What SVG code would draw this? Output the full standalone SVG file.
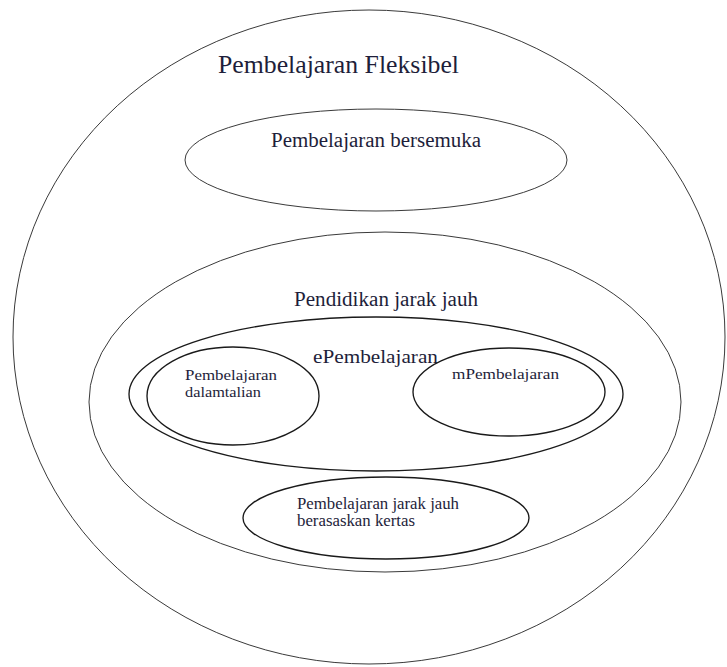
<svg xmlns="http://www.w3.org/2000/svg" width="727" height="667" viewBox="0 0 727 667">
  <style>
    .thin { fill: none; stroke: #3a3a3a; stroke-width: 1; }
    .bold { fill: none; stroke: #1a1a1a; stroke-width: 1.35; }
    .lbl { font-family: 'Liberation Serif', 'DejaVu Serif', serif; fill: #1e1e3a; }
  </style>
  <rect width="727" height="667" fill="#ffffff"/>

  <!-- Flexible learning: outer boundary -->
  <g id="fleksibel">
    <ellipse class="thin" cx="369" cy="337" rx="356" ry="327"/>
    <text class="lbl" x="218" y="73" font-size="25" textLength="241" lengthAdjust="spacingAndGlyphs">Pembelajaran Fleksibel</text>
  </g>

  <!-- Face-to-face learning -->
  <g id="bersemuka">
    <ellipse class="thin" cx="376" cy="160" rx="191" ry="51"/>
    <text class="lbl" x="271" y="147" font-size="20" textLength="210" lengthAdjust="spacingAndGlyphs">Pembelajaran bersemuka</text>
  </g>

  <!-- Distance education -->
  <g id="jarak-jauh">
    <ellipse class="thin" cx="385" cy="402" rx="296" ry="170"/>
    <text class="lbl" x="294" y="306" font-size="20" textLength="184" lengthAdjust="spacingAndGlyphs">Pendidikan jarak jauh</text>
  </g>

  <!-- E-learning -->
  <g id="epembelajaran">
    <ellipse class="bold" cx="376" cy="394" rx="247" ry="77"/>
    <text class="lbl" x="313" y="363" font-size="19" textLength="125" lengthAdjust="spacingAndGlyphs">ePembelajaran</text>
  </g>

  <!-- Online learning -->
  <g id="dalamtalian">
    <ellipse class="bold" cx="233" cy="396" rx="86" ry="49"/>
    <text class="lbl" x="185" y="380" font-size="15" textLength="92" lengthAdjust="spacingAndGlyphs">Pembelajaran</text>
    <text class="lbl" x="185" y="397" font-size="15" textLength="76" lengthAdjust="spacingAndGlyphs">dalamtalian</text>
  </g>

  <!-- Mobile learning -->
  <g id="mpembelajaran">
    <ellipse class="bold" cx="509" cy="392" rx="96" ry="44"/>
    <text class="lbl" x="452" y="379" font-size="15" textLength="107" lengthAdjust="spacingAndGlyphs">mPembelajaran</text>
  </g>

  <!-- Paper-based distance learning -->
  <g id="kertas">
    <ellipse class="bold" cx="386" cy="518" rx="143" ry="41"/>
    <text class="lbl" x="297" y="509" font-size="16" textLength="162" lengthAdjust="spacingAndGlyphs">Pembelajaran jarak jauh</text>
    <text class="lbl" x="297" y="526" font-size="16" textLength="118" lengthAdjust="spacingAndGlyphs">berasaskan kertas</text>
  </g>

  <g id="connectors"></g>
</svg>
